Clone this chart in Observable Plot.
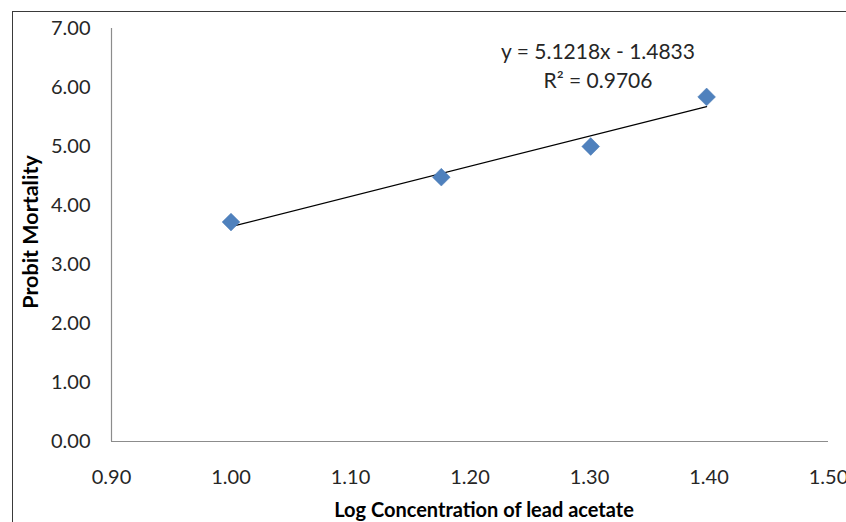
<!DOCTYPE html>
<html>
<head>
<meta charset="utf-8">
<script src="https://cdn.jsdelivr.net/npm/d3@7"></script>
<script src="https://cdn.jsdelivr.net/npm/@observablehq/plot@0.6"></script>
<style>
  html, body { margin: 0; padding: 0; background: #fff; overflow: hidden; }
  #wrap { position: relative; width: 846px; height: 522px; }
  #border { position: absolute; left: 12px; top: 11px; width: 900px; height: 600px;
            border-left: 1.5px solid #3a3a3a; border-top: 1.5px solid #3a3a3a; }
  #chart { position: absolute; left: 0; top: 0; }
  svg { font-family: Lato, "Open Sans", sans-serif; }
</style>
</head>
<body>
<div id="wrap"><div id="border"></div><div id="chart"></div></div>
<script>
const logConc = [1.000, 1.176, 1.301, 1.398];
const probit = [3.72, 4.48, 5.00, 5.84];
const xTicks = [0.9, 1.0, 1.1, 1.2, 1.3, 1.4, 1.5];
const yTicks = [0, 1, 2, 3, 4, 5, 6, 7];
const xDomain = [0.9, 1.5];
const yDomain = [0, 7];
const equation = "y = 5.1218x - 1.4833\nR² = 0.9706";
const xTitle = "Log Concentration of lead acetate";
const yTitle = "Probit Mortality";

const data = logConc.map((x, i) => ({x, y: probit[i]}));
const fmt = d3.format(".2f");

const chart = Plot.plot({
  width: 846,
  height: 522,
  marginLeft: 111,
  marginRight: 18,
  marginTop: 28,
  marginBottom: 81,
  style: {fontFamily: "Lato, 'Open Sans', sans-serif", background: "transparent"},
  x: {domain: xDomain},
  y: {domain: yDomain},
  marks: [
    Plot.ruleY([yDomain[0]], {stroke: "#8c8c8c", strokeWidth: 1.2}),
    Plot.ruleX([xDomain[0]], {stroke: "#8c8c8c", strokeWidth: 1.2}),
    Plot.axisX({ticks: xTicks, tickSize: 0, tickPadding: 28, tickFormat: fmt, fontSize: 20, fill: "#262626", label: null}),
    Plot.axisY({ticks: yTicks, tickSize: 0, tickPadding: 21, tickFormat: fmt, fontSize: 20, fill: "#262626", label: null}),
    Plot.linearRegressionY(data, {x: "x", y: "y", ci: 0, stroke: "#000", strokeWidth: 1.2}),
    Plot.dot(data, {x: "x", y: "y", symbol: "diamond2", r: 8, fill: "#4F81BD", stroke: "#4a7ab5", strokeWidth: 0.5}),
    Plot.text([equation], {frameAnchor: "top", dx: 128, dy: 36, lineAnchor: "middle", textAnchor: "middle", lineHeight: 1.35, fontSize: 21, fill: "#262626"}),
    Plot.text([xTitle], {frameAnchor: "bottom", dx: 14, dy: 69, lineAnchor: "middle", textAnchor: "middle", fontSize: 20, fontWeight: "bold", fill: "#000"}),
    Plot.text([yTitle], {frameAnchor: "left", dx: -80, dy: -3, rotate: -90, lineAnchor: "middle", textAnchor: "middle", fontSize: 21.5, fontWeight: "bold", fill: "#000"})
  ]
});
document.getElementById("chart").appendChild(chart);
</script>
</body>
</html>
